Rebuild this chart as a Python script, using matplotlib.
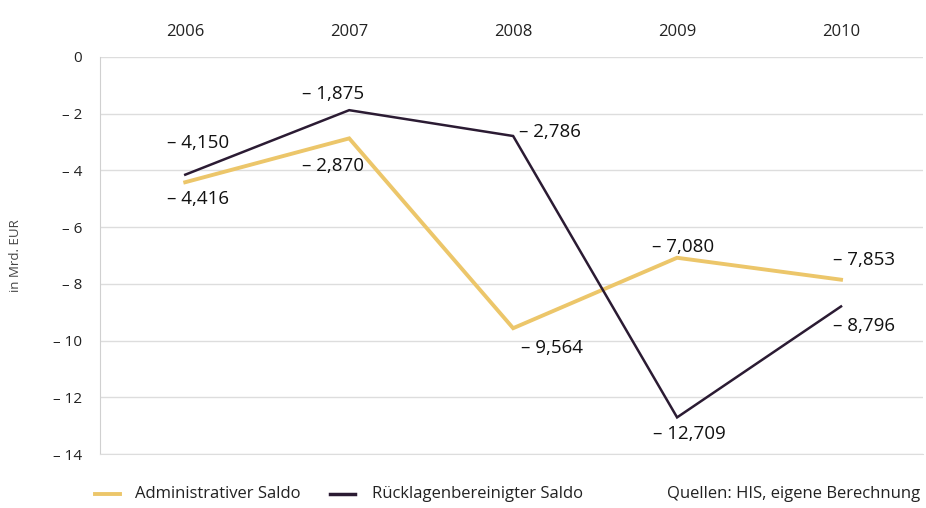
import matplotlib
matplotlib.use("Agg")
import matplotlib.pyplot as plt

years = ["2006", "2007", "2008", "2009", "2010"]
admin = [-4.416, -2.870, -9.564, -7.080, -7.853]
rueck = [-4.150, -1.875, -2.786, -12.709, -8.796]
yticks = [0, -2, -4, -6, -8, -10, -12, -14]

# label offsets in points (dx, dy)
admin_off = [(-13, -12), (-34, -20), (6, -14), (-18, 8), (-6, 14)]
rueck_off = [(-13, 23), (-34, 12), (4, 3), (-17, -12), (-6, -14)]

def fmt(v, dec=3):
    s = f"{abs(v):.{dec}f}".replace(".", ",")
    return ("– " + s) if v < 0 else s

plt.rcParams["font.family"] = ["Open Sans", "DejaVu Sans"]
fig = plt.figure(figsize=(9.26, 5.08), dpi=100)
ax = fig.add_axes([100/926, 1-454/508, 823/926, 397/508])
x = list(range(len(years)))
c_admin = "#ecc66a"
c_rueck = "#2b1b33"
ax.plot(x, admin, color=c_admin, lw=2.8, solid_joinstyle="miter", zorder=3)
ax.plot(x, rueck, color=c_rueck, lw=1.8, solid_joinstyle="miter", zorder=4)

for xi, v, (dx, dy) in zip(x, admin, admin_off):
    ax.annotate(fmt(v), (xi, v), xytext=(dx, dy), textcoords="offset points",
                ha="left", va="center", fontsize=13.5, color="#111111")
for xi, v, (dx, dy) in zip(x, rueck, rueck_off):
    ax.annotate(fmt(v), (xi, v), xytext=(dx, dy), textcoords="offset points",
                ha="left", va="center", fontsize=13.5, color="#111111")

ax.set_xlim(-0.52, 4.5)
ax.set_ylim(-14, 0)
ax.set_yticks(yticks)
ax.set_yticklabels([fmt(t, 0) for t in yticks], fontsize=11, color="#222222")
ax.set_xticks(x)
ax.set_xticklabels(years, fontsize=12, color="#222222")
ax.xaxis.tick_top()
ax.tick_params(axis="both", length=0)
ax.tick_params(axis="x", pad=12)
ax.tick_params(axis="y", pad=13)
ax.grid(axis="y", color="#dddddd", lw=1)
for s in ["top", "right"]:
    ax.spines[s].set_visible(False)
ax.spines["left"].set_color("#d0d0d0")
ax.spines["bottom"].set_color("#dddddd")
ax.set_ylabel("in Mrd. EUR", fontsize=9.5, color="#444444")
ax.yaxis.set_label_coords(-0.095, 0.5)

# legend
ly = 1 - 494/508
fig.lines.append(plt.Line2D([95/926, 120/926], [ly]*2, color=c_admin, lw=2.8, transform=fig.transFigure))
fig.text(135/926, ly, "Administrativer Saldo", fontsize=12, va="center", color="#222222")
fig.lines.append(plt.Line2D([330/926, 355/926], [ly]*2, color=c_rueck, lw=2.5, transform=fig.transFigure))
fig.text(372/926, ly, "Rücklagenbereinigter Saldo", fontsize=12, va="center", color="#222222")
fig.text(920/926, ly, "Quellen: HIS, eigene Berechnung", fontsize=12, va="center", ha="right", color="#222222")

fig.savefig("out.png", dpi=100)
